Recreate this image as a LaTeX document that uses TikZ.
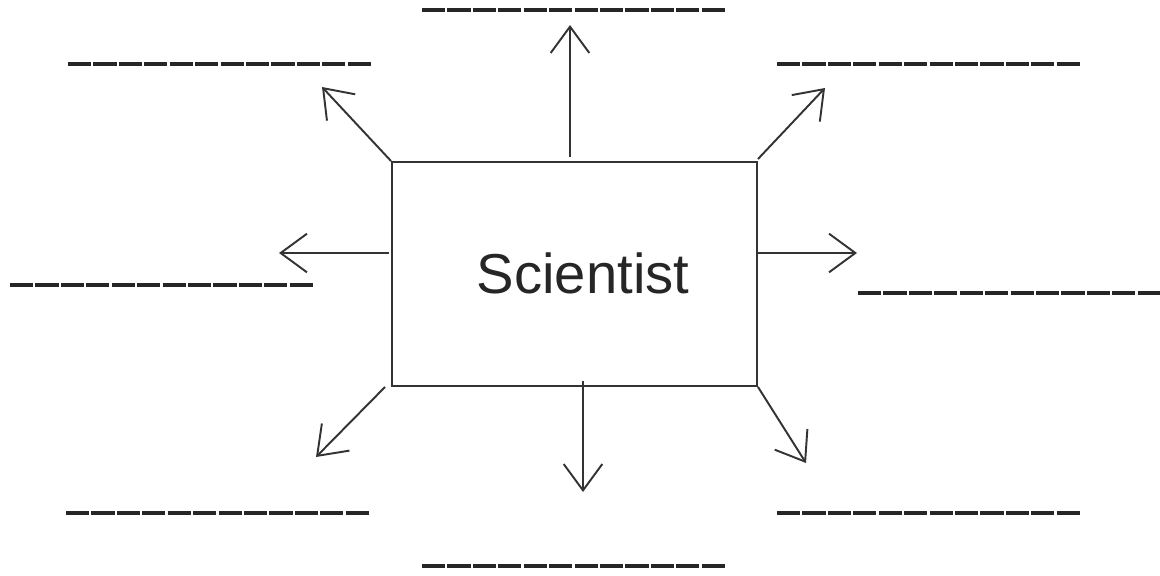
\documentclass[tikz,border=0pt]{standalone}
\usepackage{fontspec}
\setmainfont{Liberation Sans}
\usetikzlibrary{arrows.meta}
\newcommand{\blanklen}{303}
\newcommand{\boxcolor}{black!80!white}

\begin{document}
\begin{tikzpicture}[x=0.02cm, y=-0.02cm, >={Straight Barb[length=15pt, width=22pt]}]
    \useasboundingbox (0, 0) rectangle (1160, 575);

    % box
    \node [draw=\boxcolor, line width=1.1pt, minimum width=365*0.02cm, minimum height=224*0.02cm, inner sep=0pt] (sci) at (574.5, 274) {};
    \node [font=\fontsize{32}{38}\selectfont, text=black!85!white] (scitext) at (583, 273) {Scientist};

    % arrow ends
    \coordinate (endTL) at (322, 87);
    \coordinate (endT) at (570, 25);
    \coordinate (endTR) at (825, 88);
    \coordinate (endL) at (279, 253);
    \coordinate (endR) at (857, 253);
    \coordinate (endBL) at (316, 457);
    \coordinate (endB) at (583, 492);
    \coordinate (endBR) at (806, 463);

    % arrows
    \draw [->, line width=1.1pt, \boxcolor] (sci.north west) -- (endTL);
    \draw [->, line width=1.1pt, \boxcolor] (sci.north -| endT) ++(0, -4) -- (endT);
    \draw [->, line width=1.1pt, \boxcolor] (sci.north east) ++(0, -2) -- (endTR);
    \draw [->, line width=1.1pt, \boxcolor] (sci.west |- endL) ++(-2, 0) -- (endL);
    \draw [->, line width=1.1pt, \boxcolor] (sci.east |- endR) -- (endR);
    \draw [->, line width=1.1pt, \boxcolor] (sci.south west) ++(-6, 0) -- (endBL);
    \draw [->, line width=1.1pt, \boxcolor] (sci.south -| endB) ++(0, -6) -- (endB);
    \draw [->, line width=1.1pt, \boxcolor] (sci.south east) -- (endBR);

    % blanks
    \foreach \bx/\by in {68/64, 422/10, 777/64, 10/285, 858/293, 66/513, 422/566, 777/513}
        \draw [line width=2.7pt, black!85!white, dash pattern=on 13.2pt off 1.27pt] (\bx, \by) -- ++(\blanklen, 0);
\end{tikzpicture}
\end{document}
